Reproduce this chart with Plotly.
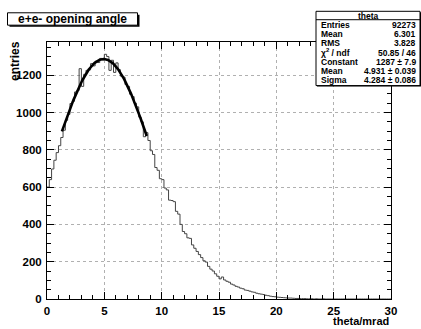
import numpy as np
import plotly.graph_objects as go

# ---------------- data ----------------
bin_width = 0.2
x_min, x_max = 0.0, 30.0
counts = [
    600, 640, 697, 744, 785, 822, 866, 905, 958, 990,
    1048, 1060, 1110, 1118, 1235, 1140, 1205, 1226, 1228, 1262,
    1250, 1275, 1268, 1290, 1282, 1312, 1300, 1226, 1280, 1215,
    1266, 1230, 1195, 1190, 1150, 1140, 1098, 1085, 1050, 1030,
    975, 950, 870, 892, 850, 795, 775, 705, 690, 645,
    640, 595, 585, 530, 528, 522, 470, 455, 400, 362,
    350, 328, 325, 290, 272, 255, 238, 222, 205, 198,
    175, 160, 150, 135, 122, 108, 118, 102, 95, 90,
    80, 75, 68, 64, 58, 55, 48, 46, 42, 38,
    36, 31, 28, 26, 24, 20, 18, 15, 13, 12,
    10, 9, 8, 7, 6, 5, 5, 4, 3, 3,
    2, 2, 2, 1, 1, 1, 0, 1, 0, 0,
    1, 0, 0, 0, 0, 0, 0, 0, 0, 0,
    0, 0, 0, 0, 0, 0, 0, 0, 0, 0,
    0, 0, 0, 0, 0, 0, 0, 0, 0, 0,
]
fit_constant = 1287.0
fit_mean = 4.931
fit_sigma = 4.284
fit_range = (1.3, 8.7)

stats_title = "theta"
stats_labels = ["Entries", "Mean", "RMS", "χ<sup>2</sup> / ndf", "Constant", "Mean", "Sigma"]
stats_values = ["92273", "6.301", "3.828", "50.85 / 46", "1287 ± 7.9", "4.931 ± 0.039", "4.284 ± 0.086"]

title_text = "e+e- opening angle"
x_title = "theta/mrad"
y_title = "entries"
y_range = (0, 1378)

# ---------------- figure ----------------
edges = [x_min + i * bin_width for i in range(len(counts) + 1)]
hx = edges
hy = counts + [counts[-1]]

fx = np.linspace(fit_range[0], fit_range[1], 200)
fy = fit_constant * np.exp(-0.5 * ((fx - fit_mean) / fit_sigma) ** 2)

fig = go.Figure()
fig.add_trace(go.Scatter(x=hx, y=hy, mode="lines", line_shape="hv",
                         line=dict(color="#444444", width=1), hoverinfo="skip"))
fig.add_trace(go.Scatter(x=fx, y=fy, mode="lines",
                         line=dict(color="black", width=2.6), hoverinfo="skip"))

FONT = "Liberation Sans, Arial, sans-serif"
L, R, T, B = 47, 391, 42, 301.5
W, H = 421, 329


def px(x):
    return (x - L) / (R - L)


def py(y):
    return (B - y) / (B - T)


axis_common = dict(
    showline=True, linecolor="black", linewidth=1, mirror="ticks",
    ticks="inside", tickcolor="black", ticklen=7, tickwidth=1,
    showgrid=True, gridcolor="#b0b0b0", griddash="dot", gridwidth=1,
    zeroline=False,
    tickfont=dict(family=FONT, size=11.5, color="black", weight="bold"),
)

fig.update_xaxes(range=[x_min, x_max], tick0=0, dtick=5,
                 minor=dict(dtick=1, ticklen=4, ticks="inside", tickcolor="black", showgrid=False),
                 ticklabelstandoff=1, **axis_common)
fig.update_yaxes(range=list(y_range), tick0=0, dtick=200,
                 minor=dict(dtick=50, ticklen=4, ticks="inside", tickcolor="black", showgrid=False),
                 ticklabelstandoff=2, **axis_common)

shapes = []
annotations = []

# title box with shadow
shapes.append(dict(type="rect", xref="paper", yref="paper",
                   x0=px(9.5), x1=px(139.5), y0=py(26.5), y1=py(14.5),
                   fillcolor="black", line=dict(width=0)))
shapes.append(dict(type="rect", xref="paper", yref="paper",
                   x0=px(7.5), x1=px(137.5), y0=py(25), y1=py(12.5),
                   fillcolor="white", line=dict(color="black", width=1)))
annotations.append(dict(text=title_text, xref="paper", yref="paper",
                        x=px(72.5), y=py(19), xanchor="center", yanchor="middle",
                        showarrow=False,
                        font=dict(family=FONT, size=12, color="black", weight="bold")))

# stats box
sx0, sx1, sy0, sy1 = 316, 420, 11, 86
shapes.append(dict(type="rect", xref="paper", yref="paper",
                   x0=px(sx0 + 1), x1=px(sx1 + 1), y0=py(sy1 + 1), y1=py(sy0 + 1),
                   fillcolor="black", line=dict(width=0)))
shapes.append(dict(type="rect", xref="paper", yref="paper",
                   x0=px(sx0), x1=px(sx1), y0=py(sy1), y1=py(sy0),
                   fillcolor="white", line=dict(color="black", width=1)))
shapes.append(dict(type="line", xref="paper", yref="paper",
                   x0=px(sx0), x1=px(sx1), y0=py(19.5), y1=py(19.5),
                   line=dict(color="black", width=1)))
sfont = dict(family=FONT, size=8.5, color="black", weight="bold")
annotations.append(dict(text=stats_title, xref="paper", yref="paper",
                        x=px((sx0 + sx1) / 2), y=py(15.5), xanchor="center", yanchor="middle",
                        showarrow=False, font=sfont))
row_y = [24.5, 34, 43.5, 53, 62, 71, 80]
for lab, val, ry in zip(stats_labels, stats_values, row_y):
    annotations.append(dict(text=lab, xref="paper", yref="paper",
                            x=px(319), y=py(ry), xanchor="left", yanchor="middle",
                            showarrow=False, font=sfont))
    annotations.append(dict(text=val, xref="paper", yref="paper",
                            x=px(417.5), y=py(ry), xanchor="right", yanchor="middle",
                            showarrow=False, font=sfont))

# axis titles
annotations.append(dict(text=x_title, xref="paper", yref="paper",
                        x=px(391), y=py(323.5), xanchor="right", yanchor="middle",
                        showarrow=False,
                        font=dict(family=FONT, size=11, color="black", weight="bold")))
annotations.append(dict(text=y_title, xref="paper", yref="paper",
                        x=px(15), y=py(39), xanchor="center", yanchor="top",
                        textangle=-90, showarrow=False,
                        font=dict(family=FONT, size=12, color="black", weight="bold")))

fig.update_layout(
    width=W, height=H,
    margin=dict(l=L, r=W - R, t=T, b=H - B, pad=0),
    paper_bgcolor="white", plot_bgcolor="white",
    showlegend=False,
    shapes=shapes, annotations=annotations,
)

fig.write_html("out.html")
